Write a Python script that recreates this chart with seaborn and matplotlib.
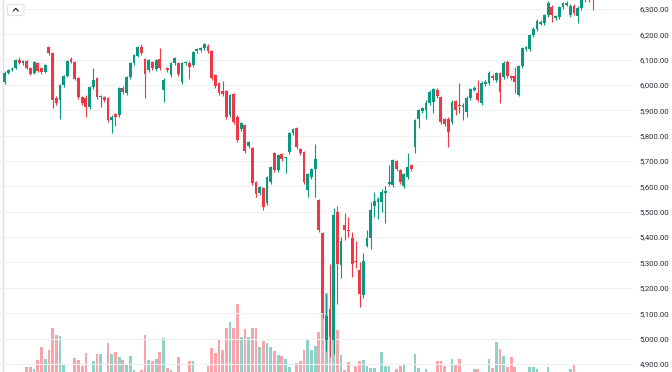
import numpy as np
import pandas as pd
import matplotlib
matplotlib.use("Agg")
import matplotlib.pyplot as plt
import seaborn as sns
from matplotlib.patches import FancyBboxPatch
from matplotlib.lines import Line2D

# ---- data ----
opens = [6011, 6047, 6058, 6066, 6098, 6086, 6094, 6066, 6047, 6086,
         6066, 6051, 6149, 6126, 5948, 5940, 5999, 6035, 6102, 6090,
         6027, 5952, 5948, 5912, 5991, 6027, 5952, 5952, 5948, 5861,
         5885, 5881, 5987, 5968, 6031, 6086, 6114, 6149, 6102, 6058,
         6090, 6062, 6102, 5980, 6066, 6039, 6086, 6086, 6011, 6086,
         6088, 6078, 6133, 6137, 6145, 6153, 6133, 6039, 6007, 5976,
         5976, 5881, 5964, 5873, 5825, 5841, 5758, 5750, 5616, 5573,
         5592, 5533, 5616, 5731, 5664, 5727, 5711, 5735, 5810, 5829,
         5746, 5735, 5585, 5636, 5667, 5545, 5415, 4996, 5118, 4996,
         5498, 5292, 5446, 5427, 5395, 5304, 5272, 5170, 5367, 5395,
         5521, 5537, 5537, 5573, 5608, 5604, 5699, 5664, 5600, 5636,
         5683, 5754, 5865, 5897, 5900, 5928, 5932, 5980, 5952, 5865,
         5865, 5853, 5936, 5920, 5912, 5893, 5948, 5980, 5968, 5928,
         6003, 6007, 6035, 6019, 6047, 6031, 6090, 6035, 6035, 5960,
         6074, 6141, 6141, 6197, 6220, 6240, 6244, 6276, 6307, 6264,
         6268, 6307, 6315, 6276, 6311, 6272, 6303, 6345, 6348, 6345]
highs = [6055, 6064, 6070, 6102, 6110, 6100, 6098, 6070, 6096, 6090,
         6070, 6084, 6153, 6130, 5955, 6005, 6040, 6100, 6110, 6095,
         6032, 5958, 5960, 5998, 6066, 6032, 5962, 5958, 5952, 5880,
         5890, 5992, 5995, 6037, 6092, 6124, 6155, 6161, 6108, 6104,
         6096, 6104, 6145, 6027, 6072, 6092, 6112, 6092, 6092, 6094,
         6094, 6135, 6147, 6150, 6166, 6160, 6137, 6045, 6012, 6015,
         5982, 5966, 5970, 5880, 5856, 5848, 5780, 5756, 5622, 5602,
         5598, 5642, 5681, 5737, 5729, 5733, 5718, 5816, 5832, 5835,
         5752, 5740, 5654, 5673, 5766, 5552, 5422, 5174, 5296, 5514,
         5521, 5400, 5494, 5478, 5420, 5383, 5300, 5336, 5430, 5537,
         5577, 5560, 5590, 5600, 5683, 5710, 5705, 5670, 5654, 5731,
         5690, 5867, 5906, 5915, 5940, 5980, 5990, 5988, 5958, 5870,
         5872, 5940, 5942, 6007, 5928, 5955, 5990, 5995, 6019, 6015,
         6020, 6055, 6045, 6052, 6053, 6094, 6098, 6040, 6070, 6080,
         6150, 6155, 6203, 6228, 6260, 6255, 6282, 6330, 6315, 6278,
         6312, 6328, 6330, 6318, 6318, 6310, 6342, 6350, 6352, 6350]
lows = [6003, 6043, 6055, 6062, 6082, 6080, 6062, 6039, 6043, 6050,
        6045, 6047, 6120, 5908, 5922, 5865, 5992, 6030, 6085, 6018,
        5945, 5920, 5873, 5905, 5985, 5945, 5912, 5932, 5855, 5810,
        5837, 5875, 5965, 5962, 6025, 6080, 6110, 6120, 5948, 6052,
        6060, 6056, 6060, 5932, 6052, 6033, 6080, 6037, 6005, 6080,
        6023, 6072, 6128, 6132, 6140, 6128, 6020, 5988, 5960, 5958,
        5865, 5875, 5845, 5775, 5818, 5731, 5750, 5604, 5560, 5566,
        5506, 5525, 5610, 5658, 5658, 5700, 5652, 5729, 5804, 5748,
        5725, 5608, 5560, 5630, 5557, 5420, 5080, 4950, 4929, 4940,
        5138, 5240, 5390, 5399, 5241, 5280, 5124, 5160, 5360, 5352,
        5478, 5470, 5500, 5455, 5600, 5598, 5660, 5610, 5595, 5630,
        5660, 5731, 5829, 5890, 5865, 5922, 5889, 5950, 5845, 5837,
        5754, 5845, 5881, 5889, 5861, 5875, 5942, 5975, 5935, 5920,
        5995, 6000, 6020, 6012, 5928, 6025, 6028, 6020, 5968, 5955,
        6068, 6135, 6135, 6190, 6215, 6235, 6238, 6270, 6248, 6258,
        6262, 6300, 6310, 6270, 6278, 6244, 6298, 6327, 6327, 6296]
closes = [6047, 6058, 6064, 6098, 6086, 6094, 6066, 6043, 6090, 6055,
          6051, 6078, 6126, 5940, 5928, 5999, 6035, 6094, 6090, 6023,
          5952, 5928, 5912, 5991, 6019, 5952, 5956, 5940, 5861, 5873,
          5873, 5987, 5972, 6031, 6086, 6118, 6149, 6126, 6043, 6098,
          6066, 6098, 6066, 6019, 6058, 6086, 6106, 6043, 6086, 6088,
          6070, 6130, 6141, 6145, 6161, 6133, 6027, 5995, 5968, 5964,
          5873, 5960, 5853, 5782, 5849, 5739, 5774, 5612, 5569, 5596,
          5517, 5636, 5675, 5664, 5723, 5707, 5713, 5810, 5825, 5754,
          5731, 5616, 5648, 5667, 5707, 5427, 5099, 5087, 5008, 5486,
          5296, 5383, 5430, 5423, 5296, 5300, 5174, 5304, 5395, 5506,
          5541, 5549, 5577, 5581, 5616, 5703, 5667, 5616, 5648, 5675,
          5667, 5861, 5900, 5908, 5928, 5972, 5983, 5956, 5853, 5845,
          5814, 5932, 5900, 5917, 5920, 5948, 5983, 5987, 5940, 6007,
          6011, 6047, 6027, 6047, 5972, 6086, 6035, 6027, 6011, 6074,
          6145, 6149, 6197, 6220, 6252, 6248, 6276, 6323, 6276, 6272,
          6307, 6323, 6323, 6311, 6284, 6303, 6335, 6338, 6340, 6338]
volumes = [0.5, 0.5, 0.5, 0.5, 0.5, 0.5, 0.90, 0.90, 0.80, 1.25,
           1.90, 1.30, 1.75, 2.85, 2.50, 2.45, 1.00, 0.5, 0.5, 1.35,
           1.25, 0.95, 1.60, 0.5, 1.20, 1.55, 1.55, 0.5, 2.10, 1.55,
           1.65, 1.40, 1.25, 1.00, 1.45, 0.75, 0.5, 0.75, 2.50, 1.25,
           1.20, 1.30, 1.65, 2.35, 0.85, 0.75, 0.5, 1.40, 0.5, 0.5,
           1.20, 1.20, 0.5, 0.5, 0.5, 0.95, 1.85, 1.60, 2.25, 1.75,
           2.85, 3.15, 2.85, 4.05, 2.40, 2.80, 2.40, 2.85, 2.85, 1.90,
           2.20, 2.10, 1.90, 1.70, 1.50, 1.45, 1.30, 0.90, 0.5, 1.10,
           1.20, 1.75, 2.25, 1.75, 1.95, 2.65, 3.90, 4.60, 3.75, 4.25,
           2.75, 1.50, 0.75, 1.15, 0.5, 0.95, 1.20, 1.25, 0.95, 0.85,
           0.85, 0.5, 1.65, 0.95, 0.95, 0.5, 0.80, 0.95, 1.05, 0.5,
           0.5, 1.55, 0.85, 0.5, 0.80, 0.5, 0.5, 1.20, 1.20, 0.95,
           0.5, 1.30, 1.00, 1.30, 0.5, 0.5, 0.5, 0.80, 0.80, 0.5,
           0.5, 1.30, 0.85, 2.15, 1.80, 1.45, 0.90, 1.40, 0.90, 0.5,
           0.5, 0.5, 0.90, 0.90, 0.80, 0.5, 0.5, 0.90, 0.5, 0.5,
           0.5, 0.5, 0.5, 0.80, 1.05, 0.5, 0.5, 0.5, 0.5, 0.5]
price_ticks = [4900, 5000, 5100, 5200, 5300, 5400, 5500, 5600,
               5700, 5800, 5900, 6000, 6100, 6200, 6300]
vgrid_pos = [23.0, 43.9, 62.8, 83.6, 104.4, 125.5, 145.0, 167.2]

UP = "#089981"
DOWN = "#f23645"

sns.set_theme(style="white")
plt.rcParams['font.family'] = ['Roboto', 'DejaVu Sans']

idx = np.arange(1, len(opens) + 1)
o = np.array(opens, float)
c = np.array(closes, float)
h = np.array(highs, float)
l = np.array(lows, float)
up = c >= o
cols = np.where(up, UP, DOWN)

fig = plt.figure(figsize=(6.72, 3.72), dpi=100)
fig.patch.set_facecolor("white")
axv = fig.add_axes([0, 0, 633 / 672, 1])
ax = axv.twinx()

# volume (behind)
vol_df = pd.DataFrame({"idx": idx, "vol": volumes,
                       "dir": np.where(up, "up", "down")})
sns.barplot(data=vol_df, x="idx", y="vol", hue="dir",
            palette={"up": UP, "down": DOWN}, native_scale=True,
            dodge=False, width=0.74, alpha=0.45, saturation=1,
            errorbar=None, legend=False, ax=axv, linewidth=0)
axv.set_ylim(0.65, 19.25)
axv.set_xlabel("")
axv.set_ylabel("")
axv.set_yticks([])

# candles
ax.vlines(idx, l, h, colors=cols, linewidth=0.8, zorder=3)
body = np.maximum(np.abs(c - o), 3.5)
ax.bar(idx, body, bottom=np.minimum(o, c), width=0.76, color=cols,
       linewidth=0, zorder=4)

ax.set_ylim(4868, 6335.5)
ax.set_yticks(price_ticks)
ax.set_yticklabels([f"{v:,.2f}" for v in price_ticks])
ax.yaxis.tick_right()
ax.tick_params(axis="y", length=0, pad=5, labelsize=5.6, labelcolor="#2a2e39")
for a in (ax, axv):
    a.set_xlim(-0.22, 170.95)
    for s in a.spines.values():
        s.set_visible(False)
axv.set_xticks(vgrid_pos)
axv.set_xticklabels([])
axv.tick_params(axis="x", length=0)
axv.grid(True, axis="x", color="#eef0f3", linewidth=0.8)
axv.set_axisbelow(True)
ax.grid(True, axis="y", color="#eef0f3", linewidth=0.8, zorder=0)
ax.set_xticks([])
axv.axvline(0.59, color="#dcdfe6", linewidth=1.0, zorder=0)

# top-left collapse button
W, H = 672.0, 372.0
btn = FancyBboxPatch((7.5 / W, (H - 15.5) / H), 16.5 / W, 11 / H,
                     boxstyle="round,pad=0,rounding_size=0.004",
                     transform=fig.transFigure, facecolor="white",
                     edgecolor="#e0e3eb", linewidth=0.8, zorder=10)
fig.patches.append(btn)
fig.lines.append(Line2D([13.3 / W, 15.8 / W, 18.3 / W],
                        [(H - 11) / H, (H - 8.3) / H, (H - 11) / H],
                        transform=fig.transFigure, color="#131722",
                        linewidth=0.8, zorder=11))

fig.savefig("out.png", dpi=100, facecolor="white")
